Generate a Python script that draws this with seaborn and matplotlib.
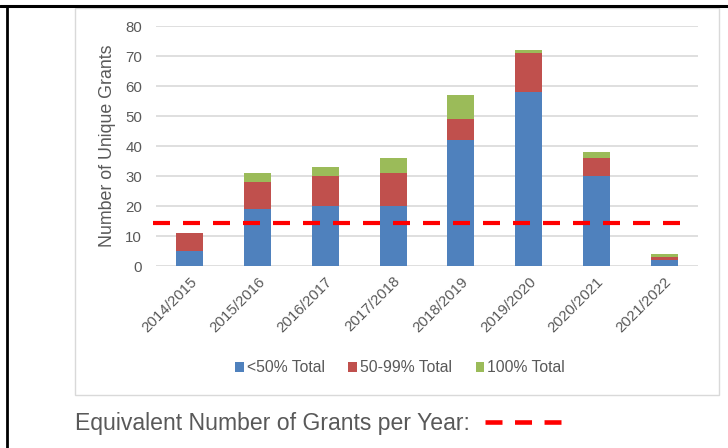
import matplotlib
matplotlib.use("Agg")
import matplotlib.pyplot as plt
import seaborn as sns
import pandas as pd
from matplotlib.lines import Line2D
from matplotlib.patches import Rectangle, Patch

years = ["2014/2015", "2015/2016", "2016/2017", "2017/2018",
         "2018/2019", "2019/2020", "2020/2021", "2021/2022"]
below50 = [5, 19, 20, 20, 42, 58, 30, 2]
pct50_99 = [6, 9, 10, 11, 7, 13, 6, 1]
pct100 = [0, 3, 3, 5, 8, 1, 2, 1]
equivalent_per_year = 14.5
series_names = ["<50% Total", "50-99% Total", "100% Total"]
colors = ["#4F81BD", "#C0504D", "#9BBB59"]

sns.set_theme(style="white")
plt.rcParams["font.family"] = ["Liberation Sans", "DejaVu Sans"]

df = pd.DataFrame({"year": years, "b": below50, "r": pct50_99, "g": pct100})
df["lvl1"] = df["b"]
df["lvl2"] = df["b"] + df["r"]
df["lvl3"] = df["b"] + df["r"] + df["g"]

W, H = 728, 448
fig = plt.figure(figsize=(W / 100, H / 100), dpi=100)
fig.patch.set_facecolor("white")

# chart frame and outer border
fig.add_artist(Rectangle((75 / W, 1 - 395 / H), (719 - 75) / W, (395 - 8) / H,
                         transform=fig.transFigure, fill=False,
                         edgecolor="#D9D9D9", linewidth=1.0))
fig.add_artist(Line2D([0, 1], [1 - 6 / H, 1 - 6 / H], transform=fig.transFigure,
                      color="black", linewidth=2.2))
fig.add_artist(Line2D([7 / W, 7 / W], [0, 1 - 6 / H], transform=fig.transFigure,
                      color="black", linewidth=2.0))

ax = fig.add_axes([156 / W, 1 - 266 / H, (698 - 156) / W, (266 - 26) / H])
ax.set_facecolor("white")

for col, c in zip(["lvl3", "lvl2", "lvl1"], [colors[2], colors[1], colors[0]]):
    sns.barplot(data=df, x="year", y=col, color=c, width=0.4, ax=ax,
                saturation=1, edgecolor="none", linewidth=0, zorder=2)

ax.axhline(equivalent_per_year, xmin=-0.005, xmax=0.988, color="#FF0000",
           linewidth=3.0, dashes=(4.08, 3.12), dash_capstyle="butt", zorder=3,
           clip_on=False)

ax.set_ylim(0, 80)
ax.set_xlim(-0.5, 7.5)
ax.set_yticks(range(0, 81, 10))
ax.yaxis.grid(True, color="#D9D9D9", linewidth=1.2, zorder=0)
ax.set_axisbelow(True)
for s in ax.spines.values():
    s.set_visible(False)
ax.tick_params(axis="both", length=0, colors="#595959", labelsize=10.8)
ax.tick_params(axis="y", pad=10)
ax.tick_params(axis="x", pad=6)
for lab in ax.get_xticklabels():
    lab.set_rotation(45)
    lab.set_ha("right")
    lab.set_rotation_mode("anchor")
ax.set_xlabel("")
ax.set_ylabel("Number of Unique Grants", color="#595959", fontsize=12.8)
ax.yaxis.set_label_coords(-(156 - 116) / (698 - 156), 0.5)

handles = [Patch(facecolor=c, edgecolor="none") for c in colors]
fig.legend(handles, series_names, loc="center", bbox_to_anchor=(400 / W, 1 - 368 / H),
           ncol=3, frameon=False, fontsize=11.3, handlelength=0.55, handleheight=0.55,
           handletextpad=0.2, columnspacing=1.5, labelcolor="#595959")

fig.text(75 / W, 1 - 423 / H, "Equivalent Number of Grants per Year:",
         ha="left", va="center", fontsize=16.6, color="#595959")
fig.add_artist(Line2D([484.5 / W, 560.5 / W], [1 - 422 / H, 1 - 422 / H],
                      transform=fig.transFigure, color="#FF0000", linewidth=3.3,
                      dashes=(3.71, 2.73), dash_capstyle="butt"))

fig.savefig("out.png", dpi=100, facecolor="white")
